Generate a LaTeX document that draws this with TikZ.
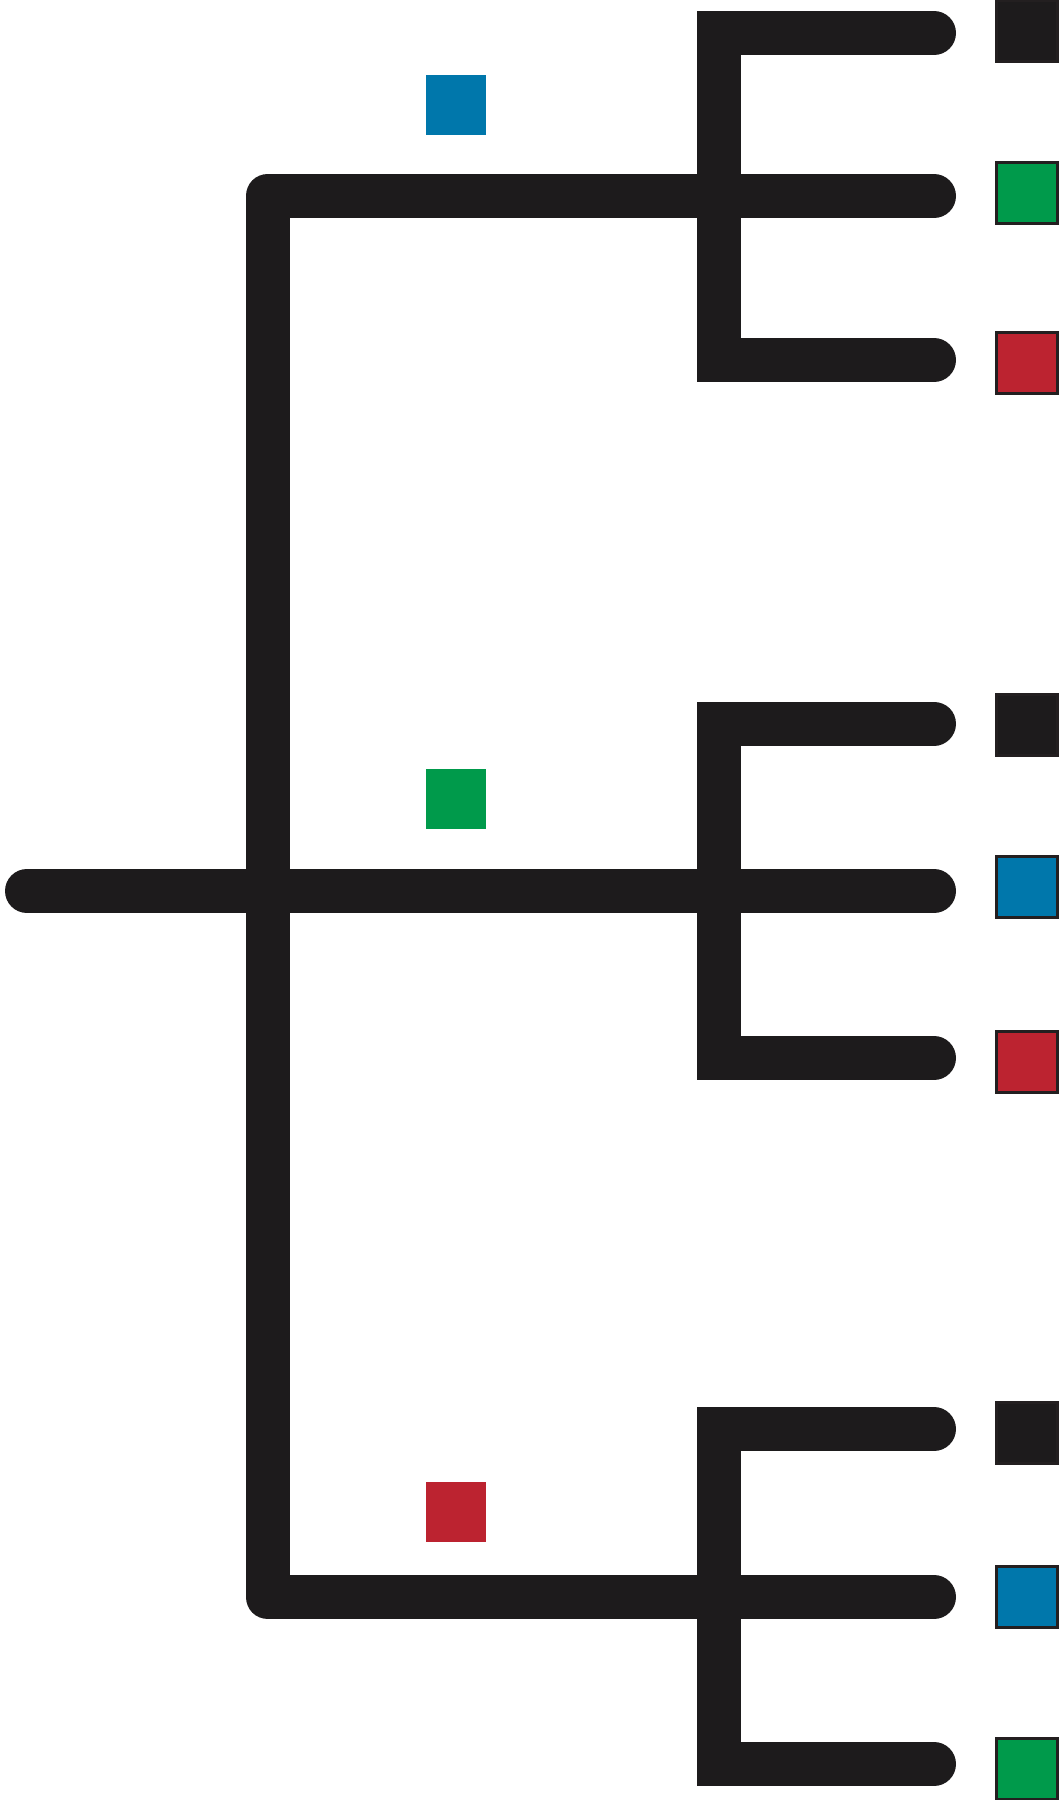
\documentclass[tikz,border=0pt]{standalone}
\definecolor{ink}{HTML}{1D1B1C}
\definecolor{cblue}{HTML}{0077AB}
\definecolor{cgreen}{HTML}{009A4B}
\definecolor{cred}{HTML}{BC2330}
\definecolor{edge}{HTML}{231F20}
\tikzset{
  branch/.style={draw=ink, line width=44pt, line cap=round},
  elbow/.style={branch, line join=round},
  comb/.style={branch, line join=miter},
  leaf/.style={draw=edge, line width=2.2pt, minimum size=61pt, inner sep=0pt, outer sep=0pt},
  tagbox/.style={minimum size=60pt, inner sep=0pt, outer sep=0pt}
}
\begin{document}
\begin{tikzpicture}[x=1pt,y=-1pt]
\useasboundingbox (0,0) rectangle (1060,1800);
% coordinates
\coordinate (root) at (27,891);
\coordinate (t1) at (267.5,196);
\coordinate (t3) at (267.5,1597);
\coordinate (e1a) at (934,33);   \coordinate (e1b) at (934,196);  \coordinate (e1c) at (934,360);
\coordinate (e2a) at (934,723.5);\coordinate (e2b) at (934,891);  \coordinate (e2c) at (934,1058);
\coordinate (e3a) at (934,1429); \coordinate (e3b) at (934,1597); \coordinate (e3c) at (934,1764);
% trunk
\draw[elbow] (e1b) -- (t1) -- (t3) -- (e3b);
\draw[branch] (root) -- (e2b);
% combs
\draw[comb] (e1a) -- (719,33) -- (719,360) -- (e1c);
\draw[comb] (e2a) -- (719,723.5) -- (719,1058) -- (e2c);
\draw[comb] (e3a) -- (719,1429) -- (719,1764) -- (e3c);
% left markers
\node[tagbox, fill=cblue] (m1) at (456,105) {};
\node[tagbox, fill=cgreen] (m2) at (456,799) {};
\node[tagbox, fill=cred] (m3) at (456,1512) {};
% right leaves
\node[leaf, fill=ink] (l1) at (1027,31) {};
\node[leaf, fill=cgreen] (l2) at (1027,193) {};
\node[leaf, fill=cred] (l3) at (1027,363) {};
\node[leaf, fill=ink] (l4) at (1027,725) {};
\node[leaf, fill=cblue] (l5) at (1027,887) {};
\node[leaf, fill=cred] (l6) at (1027,1062) {};
\node[leaf, fill=ink] (l7) at (1027,1433) {};
\node[leaf, fill=cblue] (l8) at (1027,1597) {};
\node[leaf, fill=cgreen] (l9) at (1027,1769) {};
\end{tikzpicture}
\end{document}
